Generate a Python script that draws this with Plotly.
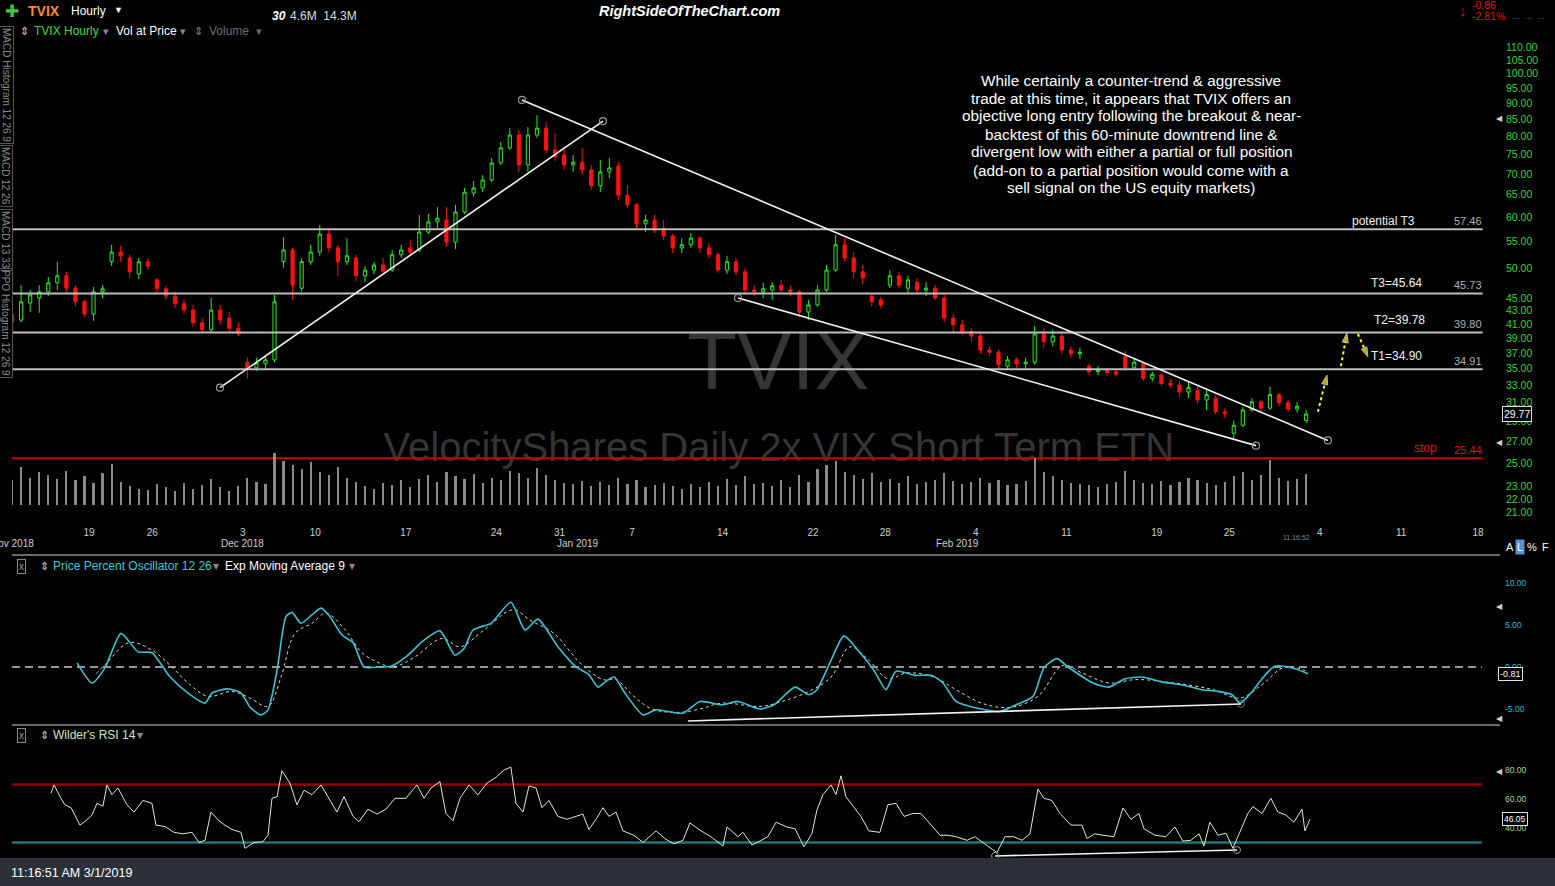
import numpy as np
import plotly.graph_objects as go

# TVIX hourly chart (shown as half-day candles)
# x unit = trading day index, Nov 12 2018 = 0

bar_t = 0.75 + 0.5 * np.arange(144)

opens = [42.4, 41.6, 44.2, 45.0, 46.0, 47.5, 48.7, 46.6, 44.4, 42.5,
         46.0, 51.2, 53.0, 51.9, 49.0, 51.2, 48.0, 46.5, 45.3, 44.1,
         43.1, 41.2, 40.2, 43.1, 41.9, 40.4, 35.8, 35.1, 35.6, 36.1,
         51.2, 53.4, 46.6, 51.2, 53.0, 56.5, 53.8, 51.2, 51.9, 48.7,
         49.7, 50.6, 49.7, 52.5, 53.8, 53.4, 56.9, 59.0, 59.4, 54.9,
         61.1, 65.4, 66.6, 68.5, 72.8, 76.8, 80.4, 72.3, 80.4, 82.4,
         76.2, 74.9, 72.3, 73.0, 71.0, 67.1, 70.5, 72.0, 64.9, 62.7,
         58.6, 59.4, 57.7, 56.1, 53.8, 54.4, 55.7, 53.8, 52.5, 49.7,
         51.2, 49.4, 46.3, 46.0, 46.3, 47.1, 46.3, 46.0, 42.8, 43.9,
         46.3, 49.7, 54.4, 51.9, 49.4, 45.3, 44.7, 47.1, 48.7, 46.6,
         47.6, 46.3, 46.6, 45.0, 41.9, 40.9, 39.9, 39.3, 37.4, 37.1,
         35.3, 36.1, 35.6, 35.8, 39.6, 38.5, 39.3, 37.4, 36.9, 35.3,
         34.6, 34.8, 34.6, 36.5, 35.1, 35.6, 33.8, 34.2, 33.2, 33.0,
         32.2, 32.4, 31.3, 31.5, 30.0, 27.8, 28.6, 30.2, 31.1, 30.4,
         31.9, 31.0, 30.3, 29.1]
highs = [42.8, 47.1, 46.3, 47.1, 48.5, 51.2, 49.4, 47.1, 44.7, 46.8,
         47.1, 54.4, 54.2, 52.5, 51.9, 51.9, 48.3, 47.0, 46.0, 44.7,
         43.9, 41.9, 45.0, 43.9, 42.8, 41.3, 36.4, 36.4, 36.6, 45.5,
         55.9, 53.8, 51.9, 54.4, 58.4, 57.3, 54.4, 55.7, 52.5, 50.4,
         51.2, 51.9, 53.4, 54.4, 55.3, 60.5, 60.7, 62.2, 62.2, 62.7,
         66.6, 68.3, 69.7, 74.1, 78.4, 82.4, 81.9, 82.7, 86.3, 84.2,
         81.0, 76.8, 74.9, 76.8, 72.3, 73.6, 74.1, 73.0, 67.3, 63.1,
         60.5, 60.5, 59.4, 56.5, 55.7, 56.7, 56.1, 54.7, 53.0, 52.3,
         51.9, 50.1, 47.1, 47.5, 47.6, 48.0, 47.0, 46.3, 44.7, 47.1,
         50.6, 56.3, 55.7, 53.0, 50.6, 45.6, 45.2, 49.7, 49.4, 48.7,
         48.3, 47.6, 47.1, 45.5, 42.5, 41.6, 40.4, 39.7, 37.9, 37.4,
         36.6, 36.4, 36.4, 40.7, 40.4, 40.2, 39.9, 37.9, 37.7, 35.6,
         35.3, 35.1, 34.9, 37.3, 36.4, 35.8, 34.6, 34.5, 33.7, 33.5,
         33.4, 32.8, 32.7, 31.9, 30.4, 29.1, 30.5, 31.5, 31.3, 32.8,
         32.1, 31.3, 31.1, 30.2]
lows = [40.9, 41.3, 42.8, 42.7, 45.3, 46.3, 46.0, 43.7, 42.1, 41.5,
        45.0, 50.4, 51.2, 48.3, 48.1, 49.7, 45.8, 44.7, 43.4, 42.5,
        40.6, 39.7, 39.7, 40.9, 39.9, 39.3, 33.8, 34.7, 34.8, 35.8,
        50.1, 44.7, 46.0, 50.6, 52.3, 53.0, 48.7, 50.6, 47.8, 47.6,
        49.0, 49.0, 49.4, 51.9, 52.5, 53.0, 56.5, 57.7, 54.0, 53.6,
        60.7, 64.5, 65.6, 68.0, 72.3, 76.2, 70.5, 70.5, 79.6, 75.4,
        73.3, 71.0, 70.5, 69.7, 66.1, 65.6, 69.0, 63.8, 62.0, 57.7,
        56.9, 56.7, 55.3, 52.8, 52.8, 53.8, 52.8, 51.9, 49.2, 49.0,
        48.8, 45.8, 45.3, 45.0, 44.7, 45.8, 45.3, 42.0, 41.6, 43.6,
        46.0, 49.4, 51.2, 48.3, 47.3, 43.7, 43.4, 46.6, 46.6, 45.6,
        45.6, 45.3, 44.7, 41.3, 39.9, 39.4, 38.5, 36.9, 36.5, 34.9,
        34.8, 35.1, 34.9, 35.5, 37.7, 37.9, 36.9, 36.4, 36.2, 34.2,
        34.2, 34.0, 34.0, 34.7, 34.8, 33.5, 33.4, 32.9, 32.7, 31.6,
        31.5, 30.9, 30.2, 29.7, 29.4, 27.3, 28.4, 30.0, 30.0, 30.2,
        30.6, 30.0, 29.9, 28.8]
closes = [41.3, 44.4, 45.5, 46.0, 47.5, 48.7, 46.6, 44.4, 42.5, 46.0,
          46.5, 53.0, 52.3, 49.4, 51.2, 50.4, 46.5, 45.3, 44.1, 43.1,
          41.2, 40.2, 43.1, 41.6, 40.4, 39.6, 35.1, 35.7, 36.1, 44.4,
          53.4, 47.1, 51.2, 53.0, 56.5, 53.8, 51.2, 52.3, 48.7, 49.7,
          50.6, 49.5, 52.5, 53.4, 53.0, 56.9, 59.0, 59.8, 54.9, 61.1,
          65.6, 66.6, 68.5, 72.8, 76.8, 80.4, 72.3, 80.4, 82.4, 76.2,
          74.4, 72.3, 73.0, 71.0, 67.1, 70.5, 71.5, 64.9, 62.7, 58.6,
          59.4, 57.3, 56.1, 53.8, 54.4, 55.7, 53.8, 52.5, 49.7, 51.2,
          49.4, 46.3, 46.0, 46.5, 47.0, 46.3, 46.0, 42.8, 43.9, 46.3,
          49.7, 54.4, 51.9, 49.4, 48.3, 44.4, 43.9, 48.7, 47.1, 48.0,
          46.3, 46.6, 45.0, 41.9, 40.9, 39.9, 39.3, 37.4, 37.1, 35.5,
          36.1, 35.6, 35.8, 39.6, 38.5, 39.3, 37.4, 36.9, 37.1, 34.6,
          34.8, 34.5, 34.3, 35.1, 35.8, 33.8, 34.3, 33.2, 33.0, 32.2,
          32.7, 31.3, 31.9, 30.0, 29.8, 28.6, 30.2, 31.1, 30.4, 31.9,
          31.0, 30.3, 30.6, 29.77]
volume = [4.5, 7.0, 5.0, 6.0, 5.5, 4.8, 6.2, 4.5, 5.2, 4.0,
          5.8, 7.5, 4.2, 3.5, 3.0, 2.8, 3.8, 3.2, 2.5, 4.0,
          3.0, 3.6, 4.8, 3.2, 2.6, 3.4, 5.0, 4.2, 3.8, 9.5,
          8.0, 7.2, 6.5, 7.8, 6.0, 5.4, 7.0, 5.0, 4.2, 3.5,
          3.0, 4.0, 3.6, 4.5, 3.2, 4.8, 5.5, 4.2, 6.0, 5.2,
          4.8, 5.6, 4.0, 5.0, 4.6, 6.2, 5.8, 5.0, 6.8, 5.5,
          4.5, 4.0, 3.8, 4.4, 3.5, 4.2, 3.6, 5.0, 3.8, 4.5,
          3.2, 3.6, 4.0, 3.4, 3.0, 3.8, 3.2, 4.2, 3.5, 4.8,
          3.6, 5.2, 3.8, 4.0, 3.5, 4.5, 3.2, 5.5, 4.2, 6.5,
          7.2, 8.0, 6.0, 5.5, 4.8, 5.8, 4.2, 4.8, 4.0, 5.2,
          3.8, 4.2, 4.6, 5.8, 4.4, 3.8, 4.2, 5.0, 4.0, 4.6,
          3.6, 3.8, 4.4, 8.6, 6.0, 5.2, 4.6, 4.0, 3.8, 3.6,
          3.2, 3.8, 4.2, 6.2, 4.6, 4.0, 3.8, 4.4, 3.6, 4.2,
          5.0, 4.6, 4.0, 3.6, 4.2, 5.2, 6.0, 4.6, 5.4, 8.2,
          5.0, 4.4, 4.8, 5.6]

# Price Percent Oscillator 12 26 and its 9 EMA
ppo_t = [4.34, 5.17, 5.88, 6.77, 7.71, 8.48, 9.48, 10.47, 11.41, 11.80,
         12.68, 13.40, 13.90, 14.50, 14.89, 15.39, 15.88, 16.22, 16.71, 17.32,
         17.82, 18.31, 18.98, 19.59, 20.19, 21.02, 21.69, 22.51, 23.51, 24.39,
         25.22, 25.72, 26.22, 27.21, 28.31, 29.09, 29.81, 30.91, 31.91, 32.62,
         33.12, 33.51, 34.01, 34.61, 35.61, 36.33, 37.82, 38.76, 39.97, 40.86,
         42.07, 42.85, 44.01, 44.78, 45.22, 46.00, 46.71, 47.49, 48.37, 49.03,
         49.59, 50.64, 51.57, 52.18, 52.90, 53.84, 55.33, 56.22, 57.16, 57.76,
         58.48, 59.09, 60.47, 61.35, 62.24, 63.18, 64.34, 65.55, 66.49, 67.38,
         68.15, 68.59, 69.20, 69.81, 70.52, 71.46, 72.35]
ppo = [0.5, -1.9, -0.1, 4.0, 1.8, 1.7, -1.2, -3.1, -4.3, -3.1,
       -2.6, -3.1, -4.8, -5.7, -5.1, -0.4, 6.0, 6.5, 5.2, 6.2,
       7.0, 6.0, 3.8, 2.9, 0.0, 0.0, 0.1, 1.2, 3.2, 4.3,
       1.4, 2.2, 4.4, 5.2, 7.7, 4.4, 5.7, 2.4, 0.0, -0.9,
       -2.4, -1.8, -1.2, -3.1, -5.7, -5.1, -5.5, -4.1, -4.5, -4.1,
       -5.0, -4.5, -2.4, -3.3, -2.7, 0.8, 3.7, 2.0, -0.4, -2.7,
       -0.5, -1.0, -1.0, -1.9, -4.1, -4.8, -5.3, -4.5, -3.5, -0.1,
       1.0, 0.0, -1.9, -2.4, -1.4, -1.2, -1.8, -2.2, -2.7, -2.9,
       -3.3, -4.3, -3.1, -1.4, 0.1, -0.1, -0.81]
sig_t = [5.39, 5.99, 7.21, 8.48, 9.48, 10.47, 11.57, 12.90, 13.90, 14.89,
         15.61, 16.38, 17.32, 18.09, 19.09, 20.08, 21.02, 21.80, 23.01, 24.50,
         25.50, 26.71, 28.43, 29.42, 30.69, 32.13, 33.40, 34.12, 35.11, 36.10,
         37.60, 38.76, 39.97, 42.07, 43.29, 44.78, 46.00, 47.04, 48.09, 49.14,
         50.19, 51.69, 52.90, 54.45, 55.94, 57.43, 58.81, 59.86, 61.35, 62.85,
         64.94, 67.10, 68.59, 69.81, 70.97, 71.91, 72.35]
sig = [-0.8, 0.5, 2.9, 2.0, 0.2, -1.9, -3.5, -2.9, -3.7, -4.7,
       -1.2, 4.0, 5.2, 6.4, 4.6, 1.7, 0.5, 0.0, 1.2, 3.4,
       2.4, 4.2, 6.8, 5.5, 4.0, 0.5, -1.5, -1.5, -3.5, -5.0,
       -5.4, -5.0, -4.3, -4.7, -4.1, -2.9, -1.2, 2.4, 0.8, -1.4,
       -0.7, -1.2, -2.7, -4.4, -4.8, -3.5, 0.2, -0.7, -1.9, -1.5,
       -1.9, -2.7, -3.7, -2.1, -0.1, -0.2, -0.7]

# Wilder's RSI 14
rsi_t = [2.90, 3.07, 3.40, 3.67, 4.01, 4.50, 4.83, 5.17, 5.44, 5.77,
         5.99, 6.27, 6.60, 7.10, 7.49, 7.98, 8.48, 8.70, 9.20, 9.70,
         10.19, 10.69, 11.08, 11.41, 11.74, 12.18, 12.51, 12.90, 13.40, 13.62,
         14.12, 14.61, 14.89, 15.11, 15.39, 15.66, 16.10, 16.49, 16.88, 17.32,
         17.82, 18.31, 18.70, 19.09, 19.59, 19.92, 20.41, 20.91, 21.41, 21.91,
         22.51, 23.12, 23.51, 23.90, 24.39, 24.72, 25.11, 25.50, 26.00, 26.49,
         26.99, 27.49, 27.93, 28.31, 28.59, 28.98, 29.31, 29.70, 30.03, 30.41,
         30.91, 31.41, 31.91, 32.29, 32.62, 33.01, 33.40, 33.73, 34.12, 34.50,
         35.11, 35.61, 36.33, 36.82, 37.32, 37.82, 38.20, 38.76, 39.36, 40.03,
         40.25, 40.86, 41.13, 41.63, 42.07, 42.51, 42.96, 43.56, 44.01, 44.50,
         44.94, 45.22, 45.55, 46.00, 46.27, 46.55, 46.82, 47.21, 47.65, 48.09,
         48.70, 49.14, 49.59, 50.03, 50.52, 50.97, 51.41, 52.02, 52.46, 52.90,
         53.51, 53.95, 54.72, 55.17, 55.61, 56.10, 56.55, 56.99, 57.43, 57.76,
         58.20, 58.65, 59.26, 59.86, 60.14, 60.58, 61.02, 61.63, 62.13, 62.57,
         63.01, 63.29, 63.90, 64.50, 65.00, 65.44, 65.88, 66.33, 66.60, 66.93,
         67.38, 67.82, 68.20, 68.59, 69.03, 69.31, 69.81, 70.30, 70.69, 71.13,
         71.57, 72.02, 72.18, 72.46]
rsi = [64, 69.7, 61.6, 56, 54, 42, 45, 49, 57, 55,
       69.7, 63, 67.6, 56, 51, 59, 57, 42, 41, 37,
       36, 37, 30, 31.5, 51, 45, 42, 39, 37, 26,
       30, 30.5, 35, 60.5, 61.6, 79.5, 71, 56, 66, 63,
       69.7, 59, 51, 61.6, 48, 44.4, 53, 49.6, 53, 60.5,
       60.5, 69.7, 60.5, 67.6, 72, 50, 45, 60.5, 69.7, 62.8,
       71, 75, 80, 82, 57, 51, 69, 67.6, 54, 59,
       48, 46, 48, 49.6, 39, 46, 54, 48, 51, 38,
       35, 30, 38, 32.7, 29, 31.5, 43.5, 38.5, 34, 27.6,
       40.7, 34, 37, 28.3, 31, 34, 44, 40.7, 39.5, 27,
       36, 52.4, 63, 69.7, 63, 76, 61.6, 54.8, 48, 38,
       37, 56, 57, 48, 50, 50, 44, 35, 35, 34,
       31.5, 34, 27, 23, 34, 34, 31.5, 36, 66.8, 60.5,
       59, 50, 42, 42, 32.7, 36, 35, 34, 53.8, 46,
       50, 39.5, 35, 34, 40.7, 31, 31.5, 36, 27.6, 44,
       35, 36.5, 26, 37, 50, 54.8, 50, 60.5, 51, 49,
       44, 53, 38, 46.05]

# levels and drawn lines
level_vals = [57.46, 45.73, 39.80, 34.91]
level_names = ["potential T3", "T3=45.64", "T2=39.78", "T1=34.90"]
stop_val = 25.44
trend_up = ([12.24, 33.40], [32.7, 84.5])
trend_down = ([28.92, 73.45], [91.1, 27.1])
trend_low = ([40.86, 69.48], [45.0, 26.6])
arrows = [([72.90, 73.40], [30.0, 34.2]),
          ([74.17, 74.50], [35.3, 39.7]),
          ([75.11, 75.66], [39.6, 36.5])]
ppo_div = ([38.09, 68.65], [-6.43, -4.40])
rsi_div = ([55.06, 68.43], [20.7, 24.8])

tick_pos = [5, 8.5, 13.5, 17.5, 22.5, 27.5, 31, 35, 40, 45, 49, 54, 59, 64, 68, 73, 77.5, 81.75]
tick_lbl = ["19", "26", "3", "10", "17", "24", "31", "7", "14", "22", "28",
            "4", "11", "19", "25", "4", "11", "18"]
month_lbl = ["Dec 2018", "Jan 2019", "Feb 2019"]
month_pos = [13.5, 32.0, 53.0]
price_ticks = [21, 22, 23, 25, 27, 29, 31, 33, 35, 37, 39, 41, 43, 45,
               50, 55, 60, 65, 70, 75, 80, 85, 90, 95, 100, 105, 110]

comment_lines = [
    "While certainly a counter-trend &amp; aggressive",
    "trade at this time, it appears that TVIX offers an",
    "objective long entry following the breakout &amp; near-",
    "backtest of this 60-minute downtrend line &amp;",
    "divergent low with either a partial or full position",
    "(add-on to a partial position would come with a",
    "sell signal on the US equity markets)",
]

# ---- page geometry ----
W, H = 1555, 886
ML, MR, MT, MB = 12, 55, 40, 28
PW, PH = W - ML - MR, H - MT - MB
XR = [0.746, 82.96]
X_END = 82.0


def fx(px):
    return (px - ML) / PW


def fy(py):
    return (H - MB - py) / PH


FONT = "Liberation Sans, Arial, sans-serif"
fig = go.Figure()

# watermark (drawn first so candles sit over it)
fig.add_trace(go.Scatter(x=[43.07], y=[35.07], mode="text", text=["TVIX"],
                         textfont=dict(size=82, color="#353535", family=FONT),
                         hoverinfo="skip", showlegend=False))
fig.add_trace(go.Scatter(x=[43.12], y=[26.09], mode="text",
                         text=["VelocityShares Daily 2x VIX Short Term ETN"],
                         textfont=dict(size=40, color="#353535", family=FONT),
                         hoverinfo="skip", showlegend=False))

for v in level_vals:
    fig.add_trace(go.Scatter(x=[XR[0], X_END], y=[v, v], mode="lines",
                             line=dict(color="#bdbdbd", width=2),
                             hoverinfo="skip", showlegend=False))
fig.add_trace(go.Scatter(x=[XR[0], X_END], y=[stop_val, stop_val], mode="lines",
                         line=dict(color="#d00000", width=2),
                         hoverinfo="skip", showlegend=False))

fig.add_trace(go.Candlestick(
    x=bar_t, open=opens, high=highs, low=lows, close=closes,
    increasing=dict(line=dict(color="#22ee22", width=1), fillcolor="#000000"),
    decreasing=dict(line=dict(color="#ff1010", width=1), fillcolor="#ff1010"),
    whiskerwidth=0, showlegend=False, hoverinfo="skip"))

for tx, ty in [trend_up, trend_down, trend_low]:
    fig.add_trace(go.Scatter(x=tx, y=ty, mode="lines+markers",
                             line=dict(color="#f2f2f2", width=1.6),
                             marker=dict(symbol="circle-open", size=7, color="#9a9a9a",
                                         line=dict(width=1.2)),
                             hoverinfo="skip", showlegend=False))

for ax_, ay_ in arrows:
    fig.add_trace(go.Scatter(x=ax_, y=ay_, mode="lines+markers",
                             line=dict(color="#ffff1a", width=2, dash="dot"),
                             marker=dict(symbol="arrow", angleref="previous",
                                         size=[0, 10], color="#ffff1a"),
                             hoverinfo="skip", showlegend=False))

fig.add_trace(go.Bar(x=bar_t, y=volume, yaxis="y4", width=0.12,
                     marker=dict(color="#8a8a8a", line=dict(width=0)),
                     hoverinfo="skip", showlegend=False))

# PPO panel
fig.add_trace(go.Scatter(x=[XR[0], 81.96], y=[0, 0], xaxis="x2", yaxis="y2", mode="lines",
                         line=dict(color="#c8c8c8", width=1.5, dash="8px,5px"),
                         hoverinfo="skip", showlegend=False))
fig.add_trace(go.Scatter(x=sig_t, y=sig, xaxis="x2", yaxis="y2", mode="lines",
                         line=dict(color="#d8d8d8", width=1, dash="dot", shape="spline"),
                         hoverinfo="skip", showlegend=False))
fig.add_trace(go.Scatter(x=ppo_t, y=ppo, xaxis="x2", yaxis="y2", mode="lines",
                         line=dict(color="#38c4d4", width=1.6, shape="spline", smoothing=0.6),
                         hoverinfo="skip", showlegend=False))
fig.add_trace(go.Scatter(x=ppo_div[0], y=ppo_div[1], xaxis="x2", yaxis="y2",
                         mode="lines+markers", line=dict(color="#f2f2f2", width=1.6),
                         marker=dict(symbol="circle-open", size=[0, 7], color="#9a9a9a"),
                         hoverinfo="skip", showlegend=False))

# RSI panel
fig.add_trace(go.Scatter(x=[XR[0], 81.96], y=[70, 70], xaxis="x3", yaxis="y3", mode="lines",
                         line=dict(color="#980000", width=2.5),
                         hoverinfo="skip", showlegend=False))
fig.add_trace(go.Scatter(x=[XR[0], 81.96], y=[30, 30], xaxis="x3", yaxis="y3", mode="lines",
                         line=dict(color="#1f7676", width=2.5),
                         hoverinfo="skip", showlegend=False))
fig.add_trace(go.Scatter(x=rsi_t, y=rsi, xaxis="x3", yaxis="y3", mode="lines",
                         line=dict(color="#d6efcc", width=1),
                         hoverinfo="skip", showlegend=False))
fig.add_trace(go.Scatter(x=rsi_div[0], y=rsi_div[1], xaxis="x3", yaxis="y3",
                         mode="lines+markers", line=dict(color="#f2f2f2", width=1.6),
                         marker=dict(symbol="circle-open", size=7, color="#9a9a9a"),
                         hoverinfo="skip", showlegend=False))

# ---- annotations ----
ann = []


def note(text, px, py, size=12, color="#ffffff", **kw):
    d = dict(text=text, x=fx(px), y=fy(py), xref="paper", yref="paper",
             xanchor="center", yanchor="middle",
             showarrow=False, font=dict(size=size, color=color, family=FONT))
    d.update(kw)
    ann.append(d)


# header
note("✚", 12, 11, 17, "#3cc83c")
note("<b>TVIX</b>", 44, 11, 14, "#ff8c1a")
note("Hourly", 88, 11, 12)
note("▼", 118, 10, 9)
note("<b><i>30</i></b>", 279, 16, 12)
note("4.6M  14.3M", 323, 16, 12, "#dddddd")
note("<b><i>RightSideOfTheChart.com</i></b>", 689, 11, 14.5)
note("<b>↓</b>", 1463, 10, 15, "#e01010")
note("-0.86", 1484, 5, 10.5, "#e01010")
note("-2.81%", 1488, 16, 10.5, "#e01010")
note("…  …  …", 1528, 16, 8, "#8a8a8a")
note("⇕", 24, 31, 11, "#cfcfcf")
note("TVIX Hourly", 66, 31, 12, "#3ddc3d")
note("▾", 106, 31, 11, "#8a8a8a")
note("Vol at Price", 146, 31, 12)
note("▾", 183, 31, 11, "#8a8a8a")
note("⇕", 198, 31, 11, "#8a8a8a")
note("Volume", 229, 31, 12, "#6e6e6e")
note("▾", 259, 31, 11, "#6e6e6e")

for txt, cy in [("MACD Histogram 12 26 9", 85), ("MACD 12 26", 176),
                ("MACD 13 33", 240), ("PPO Histogram 12 26 9", 323)]:
    note(txt, 6, cy, 10, "#8a8a8a", textangle=90, bordercolor="#555555", borderpad=1)

for i, line in enumerate(comment_lines):
    note(line, 1131, 80 + 18 * i, 15.3)

# level labels
name_x = [78.4, 78.77, 78.94, 78.77]
name_shift = [8, 10, 12, 13]
for v, nm, nx, sh in zip(level_vals, level_names, name_x, name_shift):
    ann.append(dict(text=nm, x=nx, y=np.log10(v), xref="x", yref="y", xanchor="right",
                    yanchor="middle", yshift=sh, showarrow=False,
                    font=dict(size=12, color="#f0f0f0", family=FONT)))
    ann.append(dict(text=f"{v:.2f}", x=82.07, y=np.log10(v), xref="x", yref="y",
                    xanchor="right", yanchor="middle", yshift=8, showarrow=False,
                    font=dict(size=11, color="#b0b0b0", family=FONT)))
ann.append(dict(text="stop", x=79.58, y=np.log10(stop_val), xref="x", yref="y",
                xanchor="right", yanchor="middle", yshift=10, showarrow=False,
                font=dict(size=12, color="#e01010", family=FONT)))
ann.append(dict(text=f"{stop_val:.2f}", x=82.07, y=np.log10(stop_val), xref="x", yref="y",
                xanchor="right", yanchor="middle", yshift=8, showarrow=False,
                font=dict(size=11, color="#e01010", family=FONT)))

# last values on the right scales
ann.append(dict(text=f"{closes[-1]:.2f}", x=fx(1517), y=np.log10(closes[-1]), xref="paper",
                yref="y", xanchor="center", yanchor="middle", showarrow=False,
                bgcolor="#000000", bordercolor="#e0e0e0",
                borderpad=1, font=dict(size=10.5, color="#ffffff", family=FONT)))
ann.append(dict(text=f"{ppo[-1]:.2f}", x=fx(1510), y=ppo[-1], xref="paper", yref="y2",
                xanchor="center", yanchor="middle", showarrow=False,
                bgcolor="#000000", bordercolor="#e0e0e0", borderpad=1,
                font=dict(size=9, color="#ffffff", family=FONT)))
ann.append(dict(text=f"{rsi[-1]:.2f}", x=fx(1515), y=rsi[-1], xref="paper", yref="y3",
                xanchor="center", yanchor="middle", showarrow=False,
                bgcolor="#000000", bordercolor="#e0e0e0", borderpad=1,
                font=dict(size=8.5, color="#ffffff", family=FONT)))
for py in [119, 442, 606, 718, 771]:
    note("◀", 1499, py, 8, "#cfcfcf")

# month labels under the day numbers
note("Nov 2018", 12, 543, 10, "#cfcfcf")
for m, mp in zip(month_lbl, month_pos):
    ann.append(dict(text=m, x=mp, y=fy(543), xref="x", yref="paper", xanchor="center",
                    yanchor="middle", showarrow=False,
                    font=dict(size=10, color="#cfcfcf", family=FONT)))
note("11:16:52", 1296, 537, 7, "#8a8a8a")
note("A", 1510, 547, 11)
note("L", 1520, 547, 11, bgcolor="#5b8fd0")
note("%", 1532, 547, 11)
note("F", 1545, 547, 11)

# panel headers
for py, parts in [(566, [("Price Percent Oscillator 12 26", 132, "#3cc8d8"), ("▾", 216, "#8a8a8a"),
                         ("Exp Moving Average 9", 285, "#ffffff"), ("▾", 352, "#8a8a8a")]),
                  (735, [("Wilder's RSI 14", 94, "#cfe8c0"), ("▾", 140, "#8a8a8a")])]:
    note("x", 21, py, 10, "#9a9a9a", bordercolor="#8a8a8a", borderpad=1)
    note("⇕", 44, py, 11, "#cfcfcf")
    for t, px, c in parts:
        note(t, px, py, 12, c)

note("11:16:51 AM 3/1/2019", 71, 873, 12.5)

shapes = [
    dict(type="rect", xref="paper", yref="paper", x0=fx(0), x1=fx(W), y0=fy(H), y1=fy(858),
         fillcolor="#2b3038", line=dict(width=0)),
    dict(type="line", xref="paper", yref="paper", x0=0, x1=1, y0=fy(555), y1=fy(555),
         line=dict(color="#6a6a6a", width=2)),
    dict(type="line", xref="paper", yref="paper", x0=0, x1=1, y0=fy(725), y1=fy(725),
         line=dict(color="#6a6a6a", width=2)),
]

hidden = dict(showgrid=False, zeroline=False, showline=False)
fig.update_layout(
    width=W, height=H, autosize=False,
    margin=dict(l=ML, r=MR, t=MT, b=MB),
    paper_bgcolor="#000000", plot_bgcolor="#000000",
    font=dict(family=FONT, color="#ffffff"),
    showlegend=False, hovermode=False, boxgap=0.5, bargap=0,
    annotations=ann, shapes=shapes,
    xaxis=dict(domain=[0, 1], anchor="y", range=XR, tickvals=tick_pos, ticktext=tick_lbl,
               tickfont=dict(size=10, color="#cfcfcf"), ticks="outside", ticklen=3,
               tickcolor="rgba(0,0,0,0)", rangeslider=dict(visible=False), **hidden),
    xaxis2=dict(domain=[0, 1], anchor="y2", matches="x", showticklabels=False, **hidden),
    xaxis3=dict(domain=[0, 1], anchor="y3", matches="x", showticklabels=False, **hidden),
    yaxis=dict(domain=[fy(520), 1], anchor="x", type="log", range=[1.30985, 2.05224],
               side="right", tickvals=price_ticks, ticktext=[f"{v:.2f}" for v in price_ticks],
               tickfont=dict(size=10.5, color="#33d633"), ticklabelstandoff=5, **hidden),
    yaxis4=dict(overlaying="y", anchor="x", range=[-2.727, 84.55], visible=False),
    yaxis2=dict(domain=[fy(724), fy(556)], anchor="x2", range=[-6.786, 13.21], side="right",
                tickvals=[-5, 0, 5, 10], ticktext=["-5.00", "0.00", "5.00", "10.00"],
                tickfont=dict(size=8.5, color="#22bcd4"), ticklabelstandoff=4, **hidden),
    yaxis3=dict(domain=[0, fy(727)], anchor="x3", range=[19.31, 109.66], side="right",
                tickvals=[40, 60, 80], ticktext=["40.00", "60.00", "80.00"],
                tickfont=dict(size=8.5, color="#a8d898"), ticklabelstandoff=4, **hidden),
)

fig.write_html("out.html", config={"displayModeBar": False},
               post_script="document.body.style.margin='0';document.body.style.overflow='hidden';")
